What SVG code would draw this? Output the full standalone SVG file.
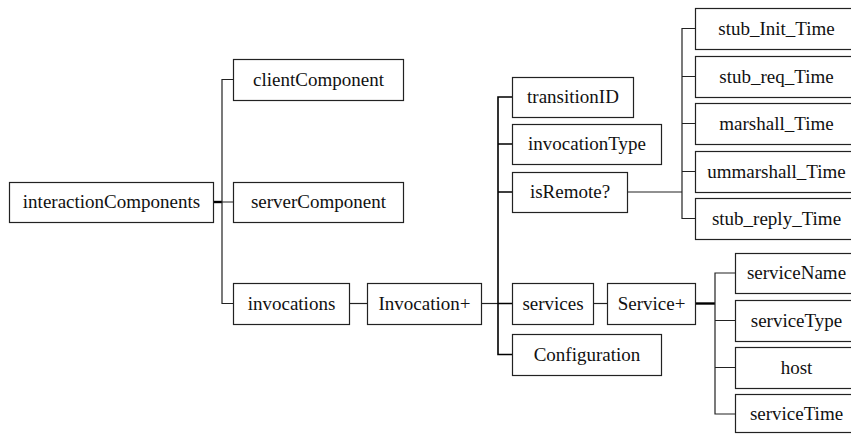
<svg xmlns="http://www.w3.org/2000/svg" width="851" height="436" viewBox="0 0 851 436">
<style>
.box{fill:#fff;stroke:#222;stroke-width:1.2}
.t{font-family:"Liberation Serif","Times New Roman",serif;font-size:19px;fill:#111;text-anchor:middle;dominant-baseline:central}
.c{stroke:#222;stroke-width:1.2;fill:none}
.k{stroke:#000;stroke-width:2.4;fill:none}
</style>
<rect width="851" height="436" fill="#fff"/>
<g id="connectors">
<line class="k" x1="213" y1="202" x2="222" y2="202"/>
<path class="c" d="M233,79.5H222V303.5H233M222,202H233"/>
<line class="c" x1="349" y1="303.5" x2="367" y2="303.5"/>
<line class="c" x1="481" y1="303.5" x2="498" y2="303.5"/>
<path class="c" style="stroke-width:1.6;stroke:#000" d="M512,97H498V354.5H512M498,144H512M498,192H512M498,303.5H512"/>
<line class="c" x1="593" y1="303.5" x2="607" y2="303.5"/>
<line class="c" x1="627" y1="192" x2="682" y2="192"/>
<path class="c" d="M695,28.5H682V218.5H695M682,76.5H695M682,123.5H695M682,171.5H695"/>
<line class="k" x1="695" y1="303.5" x2="715" y2="303.5"/>
<path class="c" d="M735,273H715V414H735M715,320.5H735M715,367.5H735"/>
</g>
<g id="interactionComponents"><rect class="box" x="9.5" y="182.5" width="204" height="40"/><text class="t" x="111.5" y="201.5">interactionComponents</text></g>
<g id="clientComponent"><rect class="box" x="233.5" y="59.5" width="170" height="41"/><text class="t" x="318.5" y="79">clientComponent</text></g>
<g id="serverComponent"><rect class="box" x="233.5" y="182.5" width="170" height="40"/><text class="t" x="318.5" y="201.5">serverComponent</text></g>
<g id="invocations"><rect class="box" x="233.5" y="283.5" width="116" height="41"/><text class="t" x="291.5" y="303">invocations</text></g>
<g id="Invocation"><rect class="box" x="367.5" y="283.5" width="114" height="41"/><text class="t" x="424.5" y="303">Invocation+</text></g>
<g id="transitionID"><rect class="box" x="512.5" y="77.5" width="121" height="40"/><text class="t" x="573" y="96.5">transitionID</text></g>
<g id="invocationType"><rect class="box" x="512.5" y="124.5" width="149" height="40"/><text class="t" x="587" y="143.5">invocationType</text></g>
<g id="isRemote"><rect class="box" x="512.5" y="172.5" width="115" height="40"/><text class="t" x="570" y="191.5">isRemote?</text></g>
<g id="services"><rect class="box" x="512.5" y="283.5" width="81" height="41"/><text class="t" x="553" y="303">services</text></g>
<g id="Service"><rect class="box" x="607.5" y="283.5" width="88" height="41"/><text class="t" x="651.5" y="303">Service+</text></g>
<g id="Configuration"><rect class="box" x="512.5" y="334.5" width="149" height="41"/><text class="t" x="587" y="354">Configuration</text></g>
<g id="stub_Init_Time"><rect class="box" x="695.5" y="8.5" width="162" height="41"/><text class="t" x="776.5" y="28">stub_Init_Time</text></g>
<g id="stub_req_Time"><rect class="box" x="695.5" y="56.5" width="162" height="41"/><text class="t" x="776.5" y="76">stub_req_Time</text></g>
<g id="marshall_Time"><rect class="box" x="695.5" y="103.5" width="162" height="41"/><text class="t" x="776.5" y="123">marshall_Time</text></g>
<g id="ummarshall_Time"><rect class="box" x="695.5" y="151.5" width="162" height="41"/><text class="t" x="776.5" y="171">ummarshall_Time</text></g>
<g id="stub_reply_Time"><rect class="box" x="695.5" y="198.5" width="162" height="41"/><text class="t" x="776.5" y="218">stub_reply_Time</text></g>
<g id="serviceName"><rect class="box" x="735.5" y="253.5" width="122" height="40"/><text class="t" x="796.5" y="272.5">serviceName</text></g>
<g id="serviceType"><rect class="box" x="735.5" y="300.5" width="122" height="41"/><text class="t" x="796.5" y="320">serviceType</text></g>
<g id="host"><rect class="box" x="735.5" y="347.5" width="122" height="41"/><text class="t" x="796.5" y="367">host</text></g>
<g id="serviceTime"><rect class="box" x="735.5" y="394.5" width="122" height="38"/><text class="t" x="796.5" y="413">serviceTime</text></g>
</svg>
